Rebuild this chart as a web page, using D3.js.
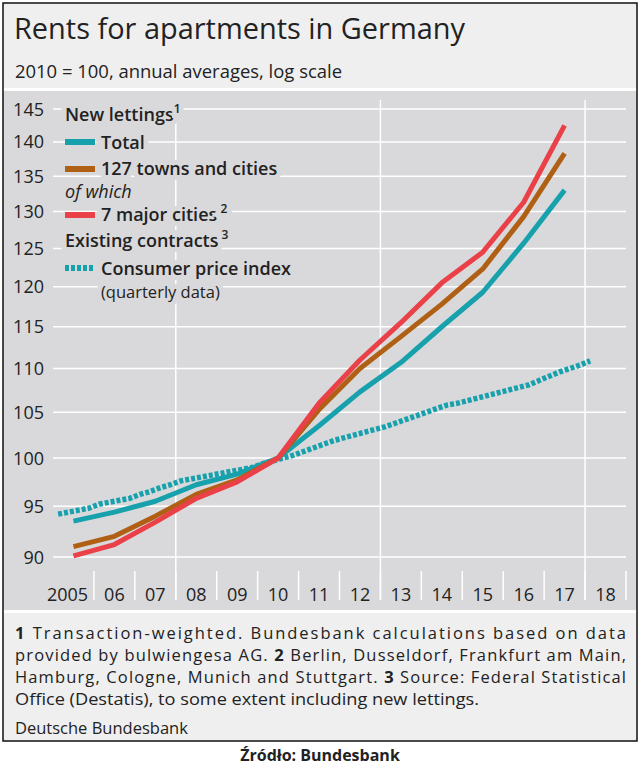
<!DOCTYPE html>
<html>
<head>
<meta charset="utf-8">
<script src="https://cdn.jsdelivr.net/npm/d3@7"></script>
<style>
body { margin: 0; background: #fff; }
svg text { font-family: "Open Sans", sans-serif; fill: #222; }
</style>
</head>
<body>
<svg id="chart" width="640" height="765"></svg>
<script>
let years = [2005, 2006, 2007, 2008, 2009, 2010, 2011, 2012, 2013, 2014, 2015, 2016, 2017];
let axisYears = [2005, 2006, 2007, 2008, 2009, 2010, 2011, 2012, 2013, 2014, 2015, 2016, 2017, 2018];
let yearLabels = ["2005", "06", "07", "08", "09", "10", "11", "12", "13", "14", "15", "16", "17", "18"];
let yTicks = [90, 95, 100, 105, 110, 115, 120, 125, 130, 135, 140, 145];

let total = [93.5, 94.4, 95.5, 97.2, 98.3, 100, 103.5, 107.3, 110.7, 115, 119.3, 125.7, 133];
let towns127 = [91, 92, 94, 96.2, 97.7, 100, 105.3, 110, 113.8, 117.8, 122.3, 129.3, 138.3];
let major7 = [90.1, 91.2, 93.4, 95.8, 97.5, 100, 106, 111, 115.5, 120.5, 124.5, 131.3, 142.5];
// quarterly CPI, 2005 Q1 .. 2018 Q1
let cpi = [
    94.2, 94.4, 94.6, 94.8,
    95.2, 95.4, 95.6, 95.8,
    96.2, 96.5, 96.9, 97.2,
    97.6, 97.8, 98.0, 98.2,
    98.4, 98.6, 98.8, 99.0,
    99.4, 99.7, 100.0, 100.3,
    100.7, 101.1, 101.5, 101.9,
    102.2, 102.5, 102.8, 103.1,
    103.4, 103.8, 104.2, 104.6,
    105.0, 105.4, 105.8, 106.0,
    106.3, 106.6, 106.9, 107.2,
    107.5, 107.8, 108.1, 108.6,
    109.1, 109.6, 110.0, 110.4,
    110.9
];

let teal = "#17a1ad", brown = "#b06014", red = "#ea4148";
let plotBg = "#d9d9db", bandBg = "#efeff0";

let svg = d3.select("#chart");

// panels
svg.append("rect").attr("x", 3).attr("y", 3).attr("width", 634).attr("height", 738).attr("fill", "#fff");
svg.append("rect").attr("x", 3).attr("y", 3).attr("width", 634).attr("height", 85).attr("fill", bandBg);
svg.append("rect").attr("x", 3).attr("y", 91).attr("width", 634).attr("height", 519).attr("fill", plotBg);
svg.append("rect").attr("x", 3).attr("y", 613).attr("width", 634).attr("height", 128).attr("fill", bandBg);
svg.append("rect").attr("x", 3).attr("y", 3).attr("width", 634).attr("height", 738)
    .attr("fill", "none").attr("stroke", "#111").attr("stroke-width", 1.5);

svg.append("text").attr("x", 14).attr("y", 39).attr("font-size", 29).attr("textLength", 451)
    .attr("lengthAdjust", "spacingAndGlyphs").text("Rents for apartments in Germany");
svg.append("text").attr("x", 15).attr("y", 78).attr("font-size", 17.5).attr("fill", "#333")
    .attr("textLength", 327).attr("lengthAdjust", "spacingAndGlyphs")
    .text("2010 = 100, annual averages, log scale");

// scales
let xBand = d3.scaleBand().domain(axisYears).range([53, 626]).padding(0);
let bw = xBand.bandwidth();
let yScale = d3.scaleLog().domain([90, 145]).range([557, 109]);

// grid
svg.append("g").selectAll("line").data(yTicks).enter().append("line")
    .attr("x1", 53).attr("x2", 626)
    .attr("y1", d => yScale(d)).attr("y2", d => yScale(d))
    .attr("stroke", "#fff").attr("stroke-width", 1.5);
svg.append("g").selectAll("line").data([2008, 2013, 2018]).enter().append("line")
    .attr("x1", d => xBand(d)).attr("x2", d => xBand(d))
    .attr("y1", 100).attr("y2", 600)
    .attr("stroke", "#fff").attr("stroke-width", 1.5);
svg.append("g").selectAll("line").data(axisYears.slice(1).concat([2019])).enter().append("line")
    .attr("x1", d => d === 2019 ? 626 : xBand(d)).attr("x2", d => d === 2019 ? 626 : xBand(d))
    .attr("y1", 571).attr("y2", 600)
    .attr("stroke", "#fff").attr("stroke-width", 1.5);

// y tick labels
svg.append("g").selectAll("text").data(yTicks).enter().append("text")
    .attr("x", 44).attr("y", d => yScale(d) + 6.5)
    .attr("text-anchor", "end").attr("font-size", 18).attr("fill", "#333")
    .text(d => d);

// x labels
svg.append("g").selectAll("text").data(axisYears).enter().append("text")
    .attr("x", (d, i) => i === 0 ? xBand(d) + bw / 2 - 6 : xBand(d) + bw / 2)
    .attr("y", 601).attr("text-anchor", "middle").attr("font-size", 18).attr("fill", "#333")
    .text((d, i) => yearLabels[i]);

// legend
let legend = svg.append("g");
function ltext(x, y, txt, opts) {
    let t = legend.append("text").attr("x", x).attr("y", y)
        .attr("font-size", opts.size || 18)
        .attr("font-weight", opts.weight || 600)
        .attr("font-style", opts.italic ? "italic" : "normal")
        .attr("stroke", plotBg).attr("stroke-width", 10).attr("paint-order", "stroke")
        .attr("fill", opts.fill || "#222");
    t.append("tspan").text(txt);
    if (opts.sup) t.append("tspan").attr("dy", -8).attr("font-size", 12).text(opts.sup);
    return t;
}
ltext(65, 121, "New lettings", { sup: "1", weight: 600 });
ltext(101, 149, "Total", {});
ltext(101, 175, "127 towns and cities", {});
ltext(65, 198, "of which", { italic: true, weight: 400, fill: "#333" });
ltext(101, 221, "7 major cities", { sup: " 2" });
ltext(65, 247, "Existing contracts", { sup: " 3", weight: 600 });
ltext(101, 275, "Consumer price index", {});
ltext(101, 298, "(quarterly data)", { weight: 400, size: 16.5, fill: "#333" });
let swatches = [[142, teal, null], [169, brown, null], [215, red, null], [268, teal, "4,2"]];
swatches.forEach(s => {
    legend.append("line").attr("x1", 65).attr("x2", 95).attr("y1", s[0]).attr("y2", s[0])
        .attr("stroke", s[1]).attr("stroke-width", 6).attr("stroke-dasharray", s[2]);
});

// lines
let annualLine = d3.line().x((d, i) => xBand(years[i]) + bw / 2).y(d => yScale(d));
let quarterLine = d3.line()
    .x((d, i) => xBand(2005 + Math.floor(i / 4)) + ((i % 4) + 0.5) * bw / 4)
    .y(d => yScale(d));

svg.append("path").attr("d", quarterLine(cpi)).attr("fill", "none")
    .attr("stroke", teal).attr("stroke-width", 5.5).attr("stroke-dasharray", "4,2");
[[total, teal], [towns127, brown], [major7, red]].forEach(s => {
    svg.append("path").attr("d", annualLine(s[0])).attr("fill", "none")
        .attr("stroke", s[1]).attr("stroke-width", 5).attr("stroke-linejoin", "round");
});

// footnotes
let notes = svg.append("g");
let noteLines = [
    [["1", true], [" Transaction-weighted. Bundesbank calculations based on data", false]],
    [["provided by bulwiengesa AG. ", false], ["2", true], [" Berlin, Dusseldorf, Frankfurt am Main,", false]],
    [["Hamburg, Cologne, Munich and Stuttgart. ", false], ["3", true], [" Source: Federal Statistical", false]],
    [["Office (Destatis), to some extent including new lettings.", false]]
];
noteLines.forEach((parts, i) => {
    let t = notes.append("text").attr("x", 15).attr("y", 639 + i * 22).attr("font-size", 16.5).attr("fill", "#333");
    if (i < 3) t.attr("textLength", 611).attr("lengthAdjust", "spacing");
    else t.attr("textLength", 464).attr("lengthAdjust", "spacingAndGlyphs");
    parts.forEach(p => t.append("tspan").attr("font-weight", p[1] ? 700 : 400).text(p[0]));
});
notes.append("text").attr("x", 15).attr("y", 734).attr("font-size", 16.5).attr("fill", "#333").text("Deutsche Bundesbank");

svg.append("text").attr("x", 320).attr("y", 761).attr("text-anchor", "middle")
    .attr("font-size", 16).attr("font-weight", 700).attr("fill", "#111").text("Źródło: Bundesbank");
</script>
</body>
</html>
